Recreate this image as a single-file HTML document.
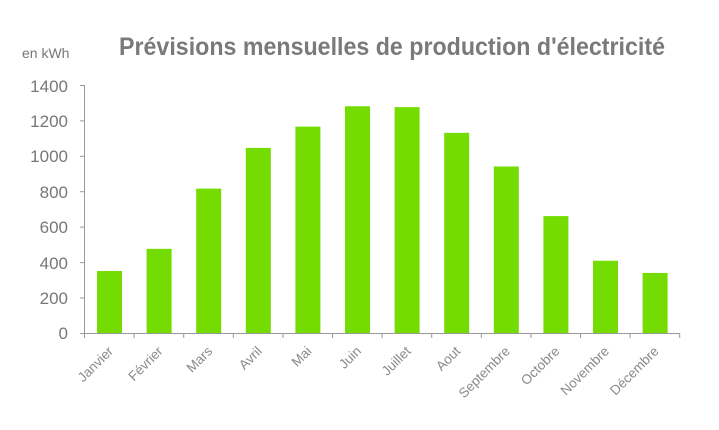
<!DOCTYPE html>
<html><head><meta charset="utf-8"><style>
body{margin:0;background:#fff;}
svg{display:block;font-family:"Liberation Sans",sans-serif;}
</style></head><body>
<svg width="719" height="430" viewBox="0 0 719 430">
<text x="392" y="55" text-anchor="middle" font-size="25" font-weight="bold" fill="#7a7a7a" textLength="546" lengthAdjust="spacingAndGlyphs">Prévisions mensuelles de production d'électricité</text>
<text x="22" y="58" font-size="14" fill="#777">en kWh</text>
<g fill="#777" font-size="17" text-anchor="end">
<text x="68" y="92">1400</text><text x="68" y="127">1200</text><text x="68" y="162">1000</text>
<text x="68" y="198">800</text><text x="68" y="233">600</text><text x="68" y="269">400</text>
<text x="68" y="304">200</text><text x="68" y="339">0</text>
</g>
<g stroke="#999" stroke-width="1">
<line x1="84.5" y1="85" x2="84.5" y2="333"/>
<line x1="84" y1="333.5" x2="680" y2="333.5"/>
<line x1="80" y1="85.5" x2="84" y2="85.5"/><line x1="80" y1="120.9" x2="84" y2="120.9"/>
<line x1="80" y1="156.3" x2="84" y2="156.3"/><line x1="80" y1="191.7" x2="84" y2="191.7"/>
<line x1="80" y1="227.1" x2="84" y2="227.1"/><line x1="80" y1="262.6" x2="84" y2="262.6"/>
<line x1="80" y1="298" x2="84" y2="298"/><line x1="80" y1="333.5" x2="84" y2="333.5"/>
</g>
<g id="bars" fill="#74dc00"></g>
<g id="ticks" stroke="#999"></g>
<g id="labels" fill="#8a8a8a" font-size="13.5" text-anchor="end"></g>
<script>
var m=["Janvier","Février","Mars","Avril","Mai","Juin","Juillet","Aout","Septembre","Octobre","Novembre","Décembre"];
var v=[350,475,815,1045,1165,1280,1275,1130,940,660,408,339];
var ns="http://www.w3.org/2000/svg",b=document.getElementById("bars"),t=document.getElementById("ticks"),l=document.getElementById("labels");
for(var i=0;i<=12;i++){var x=84.5+49.6*i;var ln=document.createElementNS(ns,"line");ln.setAttribute("x1",x);ln.setAttribute("x2",x);ln.setAttribute("y1",333);ln.setAttribute("y2",338);t.appendChild(ln);}
for(var i=0;i<12;i++){var x0=84+49.6*i;var h=v[i]*248/1400;var r=document.createElementNS(ns,"rect");r.setAttribute("x",x0+13);r.setAttribute("width",25);r.setAttribute("y",333-h);r.setAttribute("height",h);b.appendChild(r);
var tx=document.createElementNS(ns,"text");var cx=x0+30,cy=352;tx.setAttribute("x",cx);tx.setAttribute("y",cy);tx.setAttribute("transform","rotate(-45 "+cx+" "+cy+")");tx.textContent=m[i];l.appendChild(tx);}
</script>
</svg>
</body></html>
